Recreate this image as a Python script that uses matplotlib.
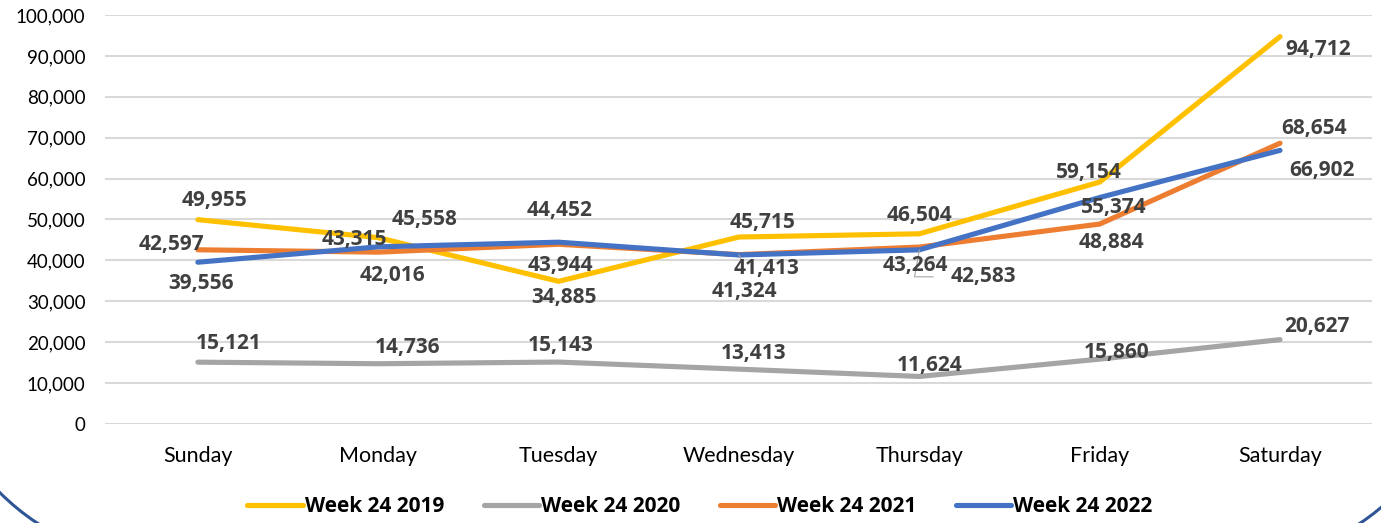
import matplotlib
matplotlib.use("Agg")
import matplotlib.pyplot as plt
from matplotlib.patches import Arc

days = ["Sunday", "Monday", "Tuesday", "Wednesday", "Thursday", "Friday", "Saturday"]
series_names = ["Week 24 2019", "Week 24 2020", "Week 24 2021", "Week 24 2022"]
w2019 = [49955, 45558, 34885, 45715, 46504, 59154, 94712]
w2020 = [15121, 14736, 15143, 13413, 11624, 15860, 20627]
w2021 = [42597, 42016, 43944, 41413, 43264, 48884, 68654]
w2022 = [39556, 43315, 44452, 41324, 42583, 55374, 66902]
colors = ["#FFC000", "#A5A5A5", "#ED7D31", "#4472C4"]

# label offsets in pixels (dx, dy up)
offsets = [
    [(17, 19), (46, 18), (5, -16), (24, 15), (0, 18), (-11, 10), (38, -13)],
    [(31, 19), (29, 16), (2, 17), (15, 16), (10, 11), (17, 7), (37, 13)],
    [(-26, 5), (14, -23), (2, -21), (28, -14), (-4, -18), (12, -18), (34, 15)],
    [(3, -21), (-24, 7), (1, 32), (5, -37), (64, -27), (14, -10), (42, -20)],
]

plt.rcParams['font.family'] = ['Lato', 'DejaVu Sans']
bold_font = ['Open Sans', 'DejaVu Sans']
W, H = 1381, 523
fig = plt.figure(figsize=(W/100, H/100), dpi=100)
ax = fig.add_axes([105/W, 1-424/H, (1372-105)/W, (424-15)/H])

x = list(range(len(days)))
all_series = [w2019, w2020, w2021, w2022]
for vals, c, name in zip(all_series, colors, series_names):
    ax.plot(x, vals, color=c, lw=3.7, solid_capstyle='round', label=name, zorder=3)

for vals, offs in zip(all_series, offsets):
    for xi, v, (dx, dy) in zip(x, vals, offs):
        ax.annotate(f"{v:,}", (xi, v), xytext=(dx, dy), textcoords='offset pixels',
                    ha='center', va='center', fontsize=15, fontweight='bold',
                    family=bold_font, color='#404040', zorder=5)

# leader lines (Wednesday 2021 label, Thursday 2022 label)
ax.annotate("", (3, w2021[3]), xytext=(4, -9), textcoords='offset pixels',
            arrowprops=dict(arrowstyle='-', color='#A6A6A6', lw=0.8, shrinkA=0, shrinkB=0))
ax.annotate("", (4, w2022[4]), xytext=(14, -27), textcoords='offset pixels',
            arrowprops=dict(arrowstyle='-', color='#A6A6A6', lw=0.8, shrinkA=0, shrinkB=0,
                            connectionstyle='angle,angleA=0,angleB=80,rad=0'))

ax.set_xlim(-0.515, 6.51)
ax.set_ylim(0, 100000)
ax.set_yticks(range(0, 100001, 10000))
ax.set_yticklabels([f"{t:,}" for t in range(0, 100001, 10000)])
ax.set_xticks(x)
ax.set_xticklabels(days)
ax.tick_params(axis='both', length=0, colors='#000000')
ax.tick_params(axis='y', pad=14, labelsize=13.5)
ax.tick_params(axis='x', pad=16, labelsize=15.5)
ax.grid(axis='y', color='#D9D9D9', lw=1.5, zorder=0)
for s in ax.spines.values():
    s.set_visible(False)

leg = fig.legend(loc='center', bbox_to_anchor=(700/W, 1-507/H), ncol=4, frameon=False,
                 handlelength=2.65, handletextpad=0.1, columnspacing=1.9,
                 prop={'weight': 'bold', 'size': 15, 'family': bold_font})

# rounded frame corners (dark blue), circle radius 236 px
R = 236
for cx, cy, t1, t2 in [(167, 326, 180, 270), (1229, 327, 270, 360)]:
    fig.add_artist(Arc((cx/W, 1-cy/H), 2*R/W, 2*R/H, theta1=t1, theta2=t2,
                       transform=fig.transFigure, color='#2F5597', lw=2.2))

fig.savefig("out.png", dpi=100)
